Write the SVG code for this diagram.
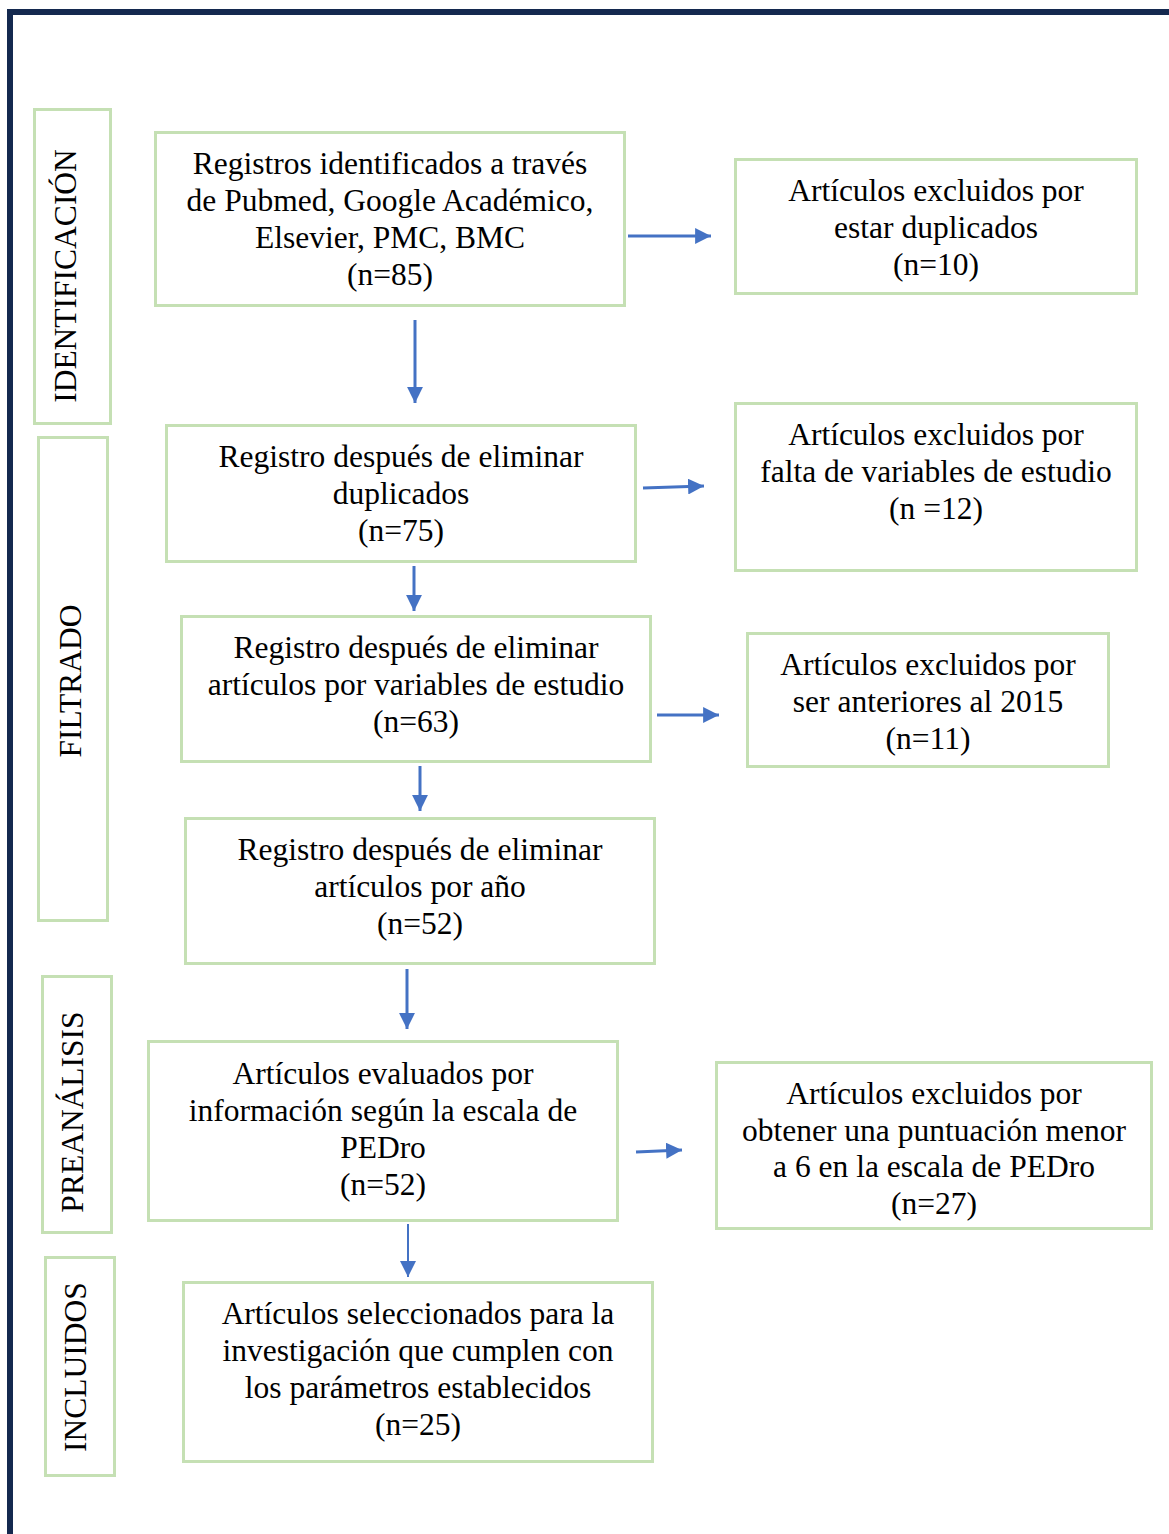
<svg xmlns="http://www.w3.org/2000/svg" width="1169" height="1534" viewBox="0 0 1169 1534">
<defs>
<style>
.box{fill:#fff;stroke:#C5E0B4;stroke-width:3}
.t{font-family:"Liberation Serif","Times New Roman",serif;font-size:31.5px;fill:#000;text-anchor:middle}
.v{font-family:"Liberation Serif","Times New Roman",serif;font-size:31.5px;fill:#000;text-anchor:middle}
.c{stroke:#4472C4;fill:none}
</style>
<marker id="ah" viewBox="0 0 10 10" refX="10" refY="5" markerWidth="5.3" markerHeight="5.3" markerUnits="strokeWidth" orient="auto">
<path d="M0,0 L10,5 L0,10 Z" fill="#4472C4"/>
</marker>
<marker id="ah2" viewBox="0 0 10 10" refX="10" refY="5" markerWidth="8" markerHeight="8" markerUnits="strokeWidth" orient="auto">
<path d="M0,0 L10,5 L0,10 Z" fill="#4472C4"/>
</marker>
</defs>
<rect width="1169" height="1534" fill="#fff"/>
<path d="M10,1534 V12 H1169" fill="none" stroke="#14294F" stroke-width="6"/>

<g id="lbl-identificacion"><rect class="box" x="34.5" y="109.5" width="76" height="314"/><text class="v" transform="translate(76,276) rotate(-90)">IDENTIFICACIÓN</text></g>
<g id="lbl-filtrado"><rect class="box" x="38.5" y="437.5" width="69" height="483"/><text class="v" transform="translate(81,681) rotate(-90)">FILTRADO</text></g>
<g id="lbl-preanalisis"><rect class="box" x="42.5" y="976.5" width="69" height="256"/><text class="v" transform="translate(83,1112) rotate(-90)">PREANÁLISIS</text></g>
<g id="lbl-incluidos"><rect class="box" x="45.5" y="1257.5" width="69" height="218"/><text class="v" transform="translate(86,1367) rotate(-90)">INCLUIDOS</text></g>

<g id="n1"><rect class="box" x="155.5" y="132.5" width="469" height="173"/><text class="t" x="390" y="174">Registros identificados a través</text><text class="t" x="390" y="211">de Pubmed, Google Académico,</text><text class="t" x="390" y="248">Elsevier, PMC, BMC</text><text class="t" x="390" y="285">(n=85)</text></g>
<g id="n2"><rect class="box" x="735.5" y="159.5" width="401" height="134"/><text class="t" x="936" y="201">Artículos excluidos por</text><text class="t" x="936" y="238">estar duplicados</text><text class="t" x="936" y="275">(n=10)</text></g>
<g id="n3"><rect class="box" x="166.5" y="425.5" width="469" height="136"/><text class="t" x="401" y="467">Registro después de eliminar</text><text class="t" x="401" y="504">duplicados</text><text class="t" x="401" y="541">(n=75)</text></g>
<g id="n4"><rect class="box" x="735.5" y="403.5" width="401" height="167"/><text class="t" x="936" y="445">Artículos excluidos por</text><text class="t" x="936" y="482">falta de variables de estudio</text><text class="t" x="936" y="519">(n =12)</text></g>
<g id="n5"><rect class="box" x="181.5" y="616.5" width="469" height="145"/><text class="t" x="416" y="658">Registro después de eliminar</text><text class="t" x="416" y="695">artículos por variables de estudio</text><text class="t" x="416" y="732">(n=63)</text></g>
<g id="n6"><rect class="box" x="747.5" y="633.5" width="361" height="133"/><text class="t" x="928" y="675">Artículos excluidos por</text><text class="t" x="928" y="712">ser anteriores al 2015</text><text class="t" x="928" y="749">(n=11)</text></g>
<g id="n7"><rect class="box" x="185.5" y="818.5" width="469" height="145"/><text class="t" x="420" y="860">Registro después de eliminar</text><text class="t" x="420" y="897">artículos por año</text><text class="t" x="420" y="934">(n=52)</text></g>
<g id="n8"><rect class="box" x="148.5" y="1041.5" width="469" height="179"/><text class="t" x="383" y="1084">Artículos evaluados por</text><text class="t" x="383" y="1121">información según la escala de</text><text class="t" x="383" y="1158">PEDro</text><text class="t" x="383" y="1195">(n=52)</text></g>
<g id="n9"><rect class="box" x="716.5" y="1062.5" width="435" height="166"/><text class="t" x="934" y="1104">Artículos excluidos por</text><text class="t" x="934" y="1141">obtener una puntuación menor</text><text class="t" x="934" y="1177">a 6 en la escala de PEDro</text><text class="t" x="934" y="1214">(n=27)</text></g>
<g id="n10"><rect class="box" x="183.5" y="1282.5" width="469" height="179"/><text class="t" x="418" y="1324">Artículos seleccionados para la</text><text class="t" x="418" y="1361">investigación que cumplen con</text><text class="t" x="418" y="1398">los parámetros establecidos</text><text class="t" x="418" y="1435">(n=25)</text></g>

<g id="connectors" stroke-width="3">
<line class="c" x1="628" y1="236" x2="711" y2="236" marker-end="url(#ah)"/>
<line class="c" x1="415" y1="320" x2="415" y2="403" marker-end="url(#ah)"/>
<line class="c" x1="643" y1="488" x2="704" y2="486" marker-end="url(#ah)"/>
<line class="c" x1="414" y1="566" x2="414" y2="611" marker-end="url(#ah)"/>
<line class="c" x1="657" y1="715" x2="719" y2="715" marker-end="url(#ah)"/>
<line class="c" x1="420" y1="766" x2="420" y2="811" marker-end="url(#ah)"/>
<line class="c" x1="407" y1="969" x2="407" y2="1029" marker-end="url(#ah)"/>
<line class="c" x1="636" y1="1152" x2="682" y2="1150" marker-end="url(#ah)"/>
<line class="c" x1="408" y1="1224" x2="408" y2="1277" style="stroke-width:2" marker-end="url(#ah2)"/>
</g>
</svg>
